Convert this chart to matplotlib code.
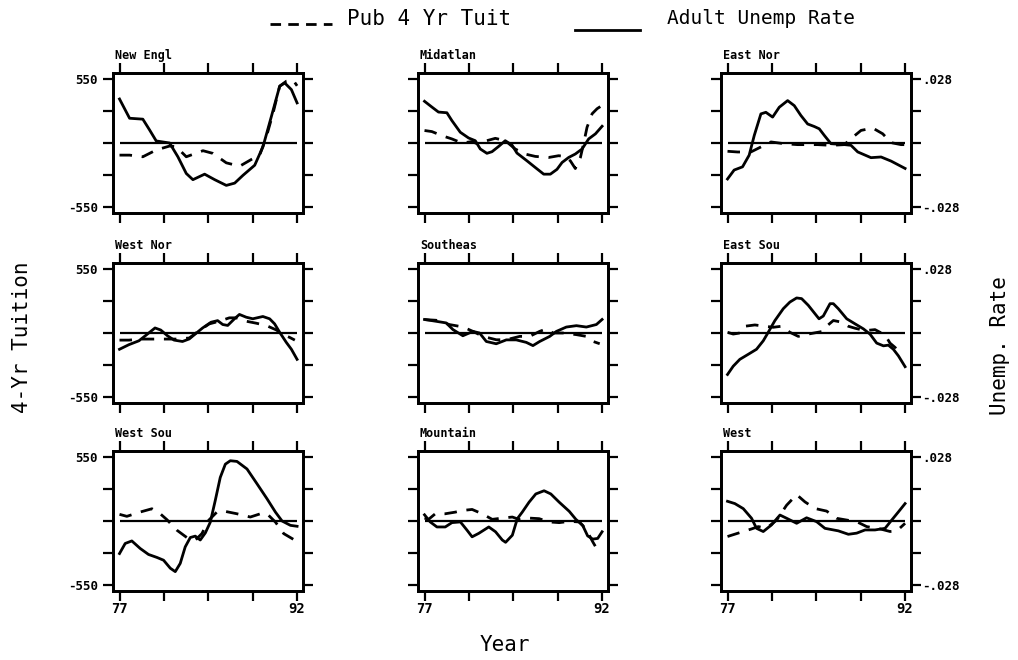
import matplotlib
matplotlib.use("Agg")
import matplotlib.pyplot as plt
from matplotlib.lines import Line2D

# ---------------- data ----------------
REGIONS = ["New Engl", "Midatlan", "East Nor",
           "West Nor", "Southeas", "East Sou",
           "West Sou", "Mountain", "West"]

# Pub 4 Yr Tuition (dollars, dashed) and Adult Unemp Rate (solid)
NE_T_YR = [77.0, 77.85, 78.97, 80.10, 81.23, 81.79, 82.64, 84.05, 84.89, 86.02, 87.15, 88.14, 88.84, 89.41, 89.97, 90.53, 91.10, 91.66, 92.0]
NE_TUIT = [-104, -104, -118, -60, -26, -32, -118, -66, -89, -170, -199, -141, -104, 55, 256, 487, 530, 540, 490]
NE_U_YR = [77.0, 77.85, 78.97, 79.54, 80.10, 81.23, 81.93, 82.64, 83.20, 84.19, 85.04, 86.02, 86.73, 87.43, 88.42, 89.12, 89.83, 90.53, 90.96, 91.52, 92.0]
NE_UNEMP = [.0192, .0108, .0104, .0057, .0009, 0, -.0060, -.0133, -.0160, -.0136, -.0160, -.0185, -.0175, -.0141, -.0097, -.0016, .0116, .0248, .0262, .0233, .0175]

MA_T_YR = [77.0, 77.62, 78.47, 79.31, 80.16, 81.01, 81.71, 82.27, 82.98, 83.82, 84.67, 85.51, 86.36, 87.49, 88.33, 88.90, 89.32, 89.74, 90.17, 90.45, 90.73, 91.16, 91.58, 92.0]
MA_TUIT = [107, 98, 63, 35, 0, 12, -17, 20, 40, 20, -52, -95, -115, -124, -109, -115, -153, -219, -124, 0, 135, 251, 294, 322]
MA_U_YR = [77.0, 77.62, 78.18, 78.89, 79.31, 80.02, 80.72, 81.29, 81.71, 82.27, 82.70, 83.26, 83.82, 84.39, 84.81, 85.66, 86.36, 87.07, 87.63, 88.19, 88.62, 89.18, 89.74, 90.31, 90.87, 91.44, 92.0]
MA_UNEMP = [.0182, .0157, .0135, .0132, .0098, .0047, .0022, .0010, -.0026, -.0045, -.0038, -.0015, .0010, -.0009, -.0044, -.0078, -.0107, -.0136, -.0136, -.0115, -.0085, -.0063, -.0048, -.0026, .0018, .0040, .0073]

EN_T_YR = [77.0, 77.85, 78.97, 79.82, 80.67, 81.79, 82.92, 84.61, 85.74, 86.87, 87.43, 88.28, 89.27, 90.11, 90.82, 91.66, 92.0]
EN_TUIT = [-71, -77, -77, -34, 9, -6, -14, -14, -20, -14, 37, 108, 128, 79, 3, -14, -14]
EN_U_YR = [77.0, 77.56, 78.27, 78.83, 79.26, 79.82, 80.24, 80.81, 81.37, 82.08, 82.64, 83.20, 83.77, 84.33, 84.75, 85.18, 85.74, 86.87, 87.43, 88.00, 89.12, 89.97, 90.82, 92.0]
EN_UNEMP = [-.0157, -.0118, -.0104, -.0053, .0033, .0127, .0134, .0113, .0156, .0185, .0163, .0120, .0083, .0072, .0062, .0033, -.0003, -.0007, -.0010, -.0039, -.0064, -.0061, -.0079, -.0111]

WN_T_YR = [77.0, 77.79, 78.93, 80.06, 81.76, 82.89, 83.73, 84.58, 85.43, 86.28, 86.85, 87.70, 88.55, 89.40, 90.25, 90.81, 91.38, 91.81]
WN_TUIT = [-61, -61, -52, -52, -52, -43, 20, 78, 101, 130, 130, 101, 84, 64, 26, -14, -38, -61]
WN_U_YR = [77.0, 77.79, 78.64, 79.35, 80.0, 80.48, 81.05, 81.61, 82.32, 82.89, 83.45, 84.02, 84.73, 85.29, 85.72, 86.14, 86.71, 87.13, 87.70, 88.26, 89.11, 89.68, 90.10, 90.53, 91.09, 91.52, 92.0]
WN_UNEMP = [-.0071, -.0051, -.0034, -.0005, .0022, .0013, -.0012, -.0031, -.0037, -.0026, -.0002, .0022, .0047, .0054, .0037, .0033, .0062, .0081, .0069, .0062, .0072, .0062, .0040, .0003, -.0041, -.0071, -.0115]

SE_T_YR = [77.0, 77.99, 79.12, 80.24, 81.09, 81.93, 83.06, 83.91, 85.04, 85.88, 86.73, 87.29, 87.86, 88.70, 89.83, 90.67, 91.23, 91.80]
SE_TUIT = [115, 109, 72, 52, 14, -29, -58, -58, -29, -29, 14, 35, 0, 0, -14, -29, -72, -92]
SE_U_YR = [77.0, 77.99, 78.83, 79.40, 80.24, 81.09, 81.65, 82.22, 83.06, 83.91, 84.75, 85.60, 86.16, 86.73, 87.57, 88.14, 88.98, 89.83, 90.67, 91.52, 92.0]
SE_UNEMP = [.0059, .0051, .0044, .0015, -.0012, .0007, 0, -.0037, -.0047, -.0030, -.0030, -.0041, -.0055, -.0037, -.0015, .0007, .0026, .0032, .0026, .0037, .0059]

ES_T_YR = [77.0, 77.48, 78.04, 78.47, 79.31, 80.16, 80.86, 81.57, 82.27, 82.98, 83.82, 84.95, 85.37, 85.94, 86.64, 87.20, 87.77, 88.62, 89.46, 90.31, 90.73, 91.16, 91.58]
ES_TUIT = [6, -9, 0, 58, 69, 58, 49, 58, 6, -29, -9, 12, 58, 107, 93, 58, 41, 20, 29, -17, -87, -124, -182]
ES_U_YR = [77.0, 77.48, 78.04, 78.75, 79.45, 80.02, 80.44, 81.0, 81.71, 82.27, 82.84, 83.26, 83.82, 84.39, 84.73, 85.09, 85.66, 85.94, 86.36, 87.07, 87.77, 88.48, 89.04, 89.60, 90.17, 90.59, 91.01, 91.44, 92.0]
ES_UNEMP = [-.0181, -.0145, -.0115, -.0093, -.0071, -.0034, .0003, .0054, .0106, .0135, .0153, .0150, .0121, .0084, .0062, .0074, .0128, .0128, .0106, .0062, .0040, .0018, -.0005, -.0044, -.0056, -.0053, -.0071, -.0100, -.0147]

WS_T_YR = [77.0, 77.62, 78.75, 79.74, 80.44, 81.01, 81.85, 82.69, 83.40, 83.96, 84.53, 85.23, 85.80, 86.92, 88.05, 88.90, 89.46, 90.17, 90.87, 91.72, 92.0]
WS_TUIT = [57, 40, 77, 105, 62, 11, -79, -142, -164, -108, 6, 77, 85, 62, 34, 62, 62, -9, -108, -159, -170]
WS_U_YR = [77.0, 77.48, 78.04, 78.75, 79.45, 80.16, 80.72, 81.29, 81.71, 82.13, 82.55, 82.98, 83.40, 83.82, 84.25, 84.67, 85.09, 85.51, 85.94, 86.36, 86.92, 87.77, 88.62, 89.46, 90.17, 90.73, 91.44, 92.0]
WS_UNEMP = [-.0142, -.0098, -.0087, -.0120, -.0146, -.0159, -.0171, -.0206, -.0221, -.0185, -.0113, -.0072, -.0066, -.0083, -.0052, -.0005, .0090, .0190, .0248, .0263, .0260, .0227, .0162, .0097, .0039, 0, -.0019, -.0023]

MT_T_YR = [77.0, 77.34, 77.91, 78.75, 79.60, 80.17, 81.02, 81.87, 82.72, 83.57, 84.42, 84.98, 85.83, 86.68, 87.53, 88.38, 89.23, 90.08, 90.64, 91.21, 91.77]
MT_TUIT = [25, 14, 62, 62, 76, 90, 99, 62, 14, 25, 34, 14, 25, 20, -8, -14, -3, -8, -70, -178, -276]
MT_U_YR = [77.0, 77.48, 78.05, 78.75, 79.32, 80.03, 80.59, 81.02, 81.58, 82.43, 83.0, 83.57, 83.85, 84.42, 84.84, 85.26, 85.83, 86.40, 87.10, 87.67, 88.38, 89.23, 89.79, 90.36, 90.78, 91.21, 91.63, 92.0]
MT_UNEMP = [.0027, -.0004, -.0026, -.0026, -.0007, -.0004, -.0040, -.0069, -.0054, -.0026, -.0047, -.0083, -.0093, -.0062, .0010, .0039, .0082, .0118, .0132, .0118, .0082, .0042, .0007, -.0019, -.0065, -.0079, -.0076, -.0047]

WE_T_YR = [77.0, 77.90, 79.03, 79.60, 80.30, 81.15, 81.99, 82.84, 83.54, 84.39, 85.37, 86.22, 87.07, 87.91, 88.76, 89.89, 90.73, 91.30, 92.0]
WE_TUIT = [-133, -104, -68, -48, -62, 8, 135, 226, 164, 107, 85, 23, 8, -6, -48, -68, -90, -85, -20]
WE_U_YR = [77.0, 77.62, 78.33, 79.03, 79.45, 80.02, 80.72, 81.43, 81.99, 82.84, 83.68, 84.53, 85.23, 86.36, 87.21, 87.91, 88.62, 89.46, 90.31, 90.87, 91.44, 92.0]
WE_UNEMP = [.0086, .0076, .0054, .0012, -.0032, -.0046, -.0017, .0026, .0012, -.0010, .0014, -.0003, -.0032, -.0043, -.0058, -.0053, -.0039, -.0039, -.0032, .0004, .0040, .0076]

X_TICKS = [77, 80.75, 84.5, 88.25, 92]
X_TICK_LABELS = ["77", "", "", "", "92"]
TUIT_TICKS = [-550, -275, 0, 275, 550]
TUIT_TICK_LABELS = ["-550", "", "", "", "550"]
UNEMP_TICKS = [-.028, -.014, 0, .014, .028]
UNEMP_TICK_LABELS = ["-.028", "", "", "", ".028"]

SERIES = [
    (NE_T_YR, NE_TUIT, NE_U_YR, NE_UNEMP),
    (MA_T_YR, MA_TUIT, MA_U_YR, MA_UNEMP),
    (EN_T_YR, EN_TUIT, EN_U_YR, EN_UNEMP),
    (WN_T_YR, WN_TUIT, WN_U_YR, WN_UNEMP),
    (SE_T_YR, SE_TUIT, SE_U_YR, SE_UNEMP),
    (ES_T_YR, ES_TUIT, ES_U_YR, ES_UNEMP),
    (WS_T_YR, WS_TUIT, WS_U_YR, WS_UNEMP),
    (MT_T_YR, MT_TUIT, MT_U_YR, MT_UNEMP),
    (WE_T_YR, WE_TUIT, WE_U_YR, WE_UNEMP),
]

# ---------------- drawing ----------------
W, H = 1018, 660
fig = plt.figure(figsize=(W / 100, H / 100), dpi=100)
MONO = "DejaVu Sans Mono"

col_left = [113, 418, 721]
row_top = [73, 263, 451]
pw, ph = 190, 140

YLIM = (-600, 600)
ULIM = (-600 * 0.028 / 550, 600 * 0.028 / 550)
XLIM = (76.45, 92.5)

for i, name in enumerate(REGIONS):
    r, c = divmod(i, 3)
    rect = [col_left[c] / W, 1 - (row_top[r] + ph) / H, pw / W, ph / H]
    ax = fig.add_axes(rect)
    ax2 = ax.twinx()
    ty, tv, uy, uv = SERIES[i]

    ax.plot([77, 92], [0, 0], color="black", lw=1.6, solid_capstyle="butt")
    ax.plot(ty, tv, color="black", lw=2.0, dashes=(4.5, 3.5))
    ax2.plot(uy, uv, color="black", lw=2.0)

    ax.set_xlim(*XLIM)
    ax.set_ylim(*YLIM)
    ax2.set_ylim(*ULIM)

    ax.set_xticks(X_TICKS)
    ax.set_yticks(TUIT_TICKS)
    ax2.set_yticks(UNEMP_TICKS)
    ax.tick_params(axis="both", direction="out", length=7, width=1.6,
                   top=True, bottom=True, left=True, right=False)
    ax2.tick_params(axis="y", direction="out", length=7, width=1.6)

    if r == 2:
        ax.set_xticklabels(X_TICK_LABELS, fontfamily=MONO, fontweight="bold", fontsize=10)
        ax.tick_params(axis="x", pad=1)
    else:
        ax.set_xticklabels([""] * 5)
    if c == 0:
        ax.set_yticklabels(TUIT_TICK_LABELS, fontfamily=MONO, fontweight="bold", fontsize=9)
        ax.tick_params(axis="y", pad=4)
    else:
        ax.set_yticklabels([""] * 5)
    if c == 2:
        ax2.set_yticklabels(UNEMP_TICK_LABELS, fontfamily=MONO, fontweight="bold", fontsize=9)
        ax2.tick_params(axis="y", pad=1)
    else:
        ax2.set_yticklabels([""] * 5)

    for a in (ax, ax2):
        for s in a.spines.values():
            s.set_linewidth(2.0)

    ax.text(0.01, 1.08, name, transform=ax.transAxes, ha="left", va="bottom",
            fontfamily=MONO, fontweight="bold", fontsize=8.5)

# legend at top
fig.add_artist(Line2D([270 / W, 332 / W], [1 - 24 / H, 1 - 24 / H], color="black",
                      lw=2.0, dashes=(3.8, 2.6)))
fig.text(347 / W, 1 - 19 / H, "Pub 4 Yr Tuit", ha="left", va="center",
         fontfamily=MONO, fontsize=15)
fig.add_artist(Line2D([575 / W, 640 / W], [1 - 30 / H, 1 - 30 / H], color="black", lw=2.0))
fig.text(667 / W, 1 - 19 / H, "Adult Unemp Rate", ha="left", va="center",
         fontfamily=MONO, fontsize=14)

# axis labels
fig.text(22 / W, 1 - 337 / H, "4-Yr Tuition", rotation=90, ha="center", va="center",
         fontfamily=MONO, fontsize=15)
fig.text(1000 / W, 1 - 346 / H, "Unemp. Rate", rotation=90, ha="center", va="center",
         fontfamily=MONO, fontsize=15)
fig.text(505 / W, 1 - 645 / H, "Year", ha="center", va="center",
         fontfamily=MONO, fontsize=15)

fig.savefig("out.png", dpi=100, facecolor="white")
